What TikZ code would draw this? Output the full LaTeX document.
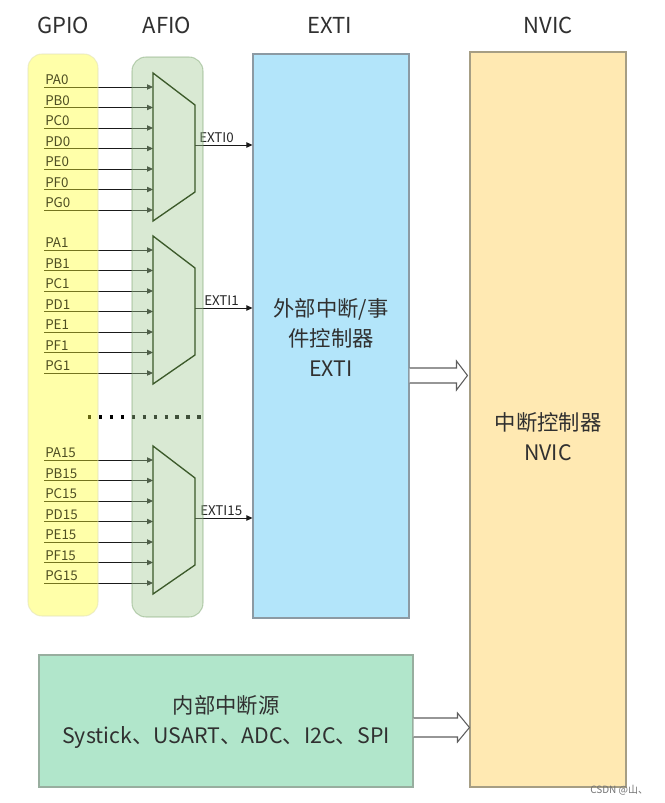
\documentclass[tikz,border=0pt]{standalone}
\usepackage{fontspec}
\setmainfont{Noto Sans CJK SC}
\usetikzlibrary{arrows.meta,calc}
\definecolor{txt}{HTML}{303030}
\definecolor{pintxt}{HTML}{4E4E22}
\definecolor{gpiofill}{HTML}{FFFF2A}
\definecolor{afiofill}{HTML}{A0CA91}
\definecolor{afioedge}{HTML}{6E9A60}
\definecolor{extifill}{HTML}{B3E5FA}
\definecolor{extiedge}{HTML}{8C9AA3}
\definecolor{nvicfill}{HTML}{FFE9B2}
\definecolor{nvicedge}{HTML}{A69E84}
\definecolor{intfill}{HTML}{B1E6CB}
\definecolor{intedge}{HTML}{98AE9F}
\definecolor{muxedge}{HTML}{3C5A2A}
\definecolor{bigedge}{HTML}{5E5E5E}
\begin{document}
\begin{tikzpicture}[x=0.75pt,y=-0.75pt,
  hdr/.style={font=\fontsize{16.5}{18}\selectfont, text=txt},
  big/.style={font=\fontsize{16}{22.5}\selectfont, text=txt, align=center},
  pin/.style={font=\fontsize{10}{11}\selectfont, text=pintxt, anchor=base west, inner sep=0pt},
  outlab/.style={font=\fontsize{10}{11}\selectfont, text=black!85, anchor=base west, inner sep=0pt},
  inarrow/.style={-{Triangle[length=4.5pt,width=4pt]}, line width=0.75pt, draw=black!90},
  box/.style={draw, line width=0.8pt, inner sep=0pt},
  muxline/.style={draw=muxedge, line width=1pt, line join=miter},
  bigarrow/.style={draw=bigedge, fill=white, line width=0.8pt},
  dotline/.style={line width=2.4pt, dash pattern=on 2.4pt off 5.8pt, draw=black}
]
\useasboundingbox (0,0) rectangle (664,803);
\fill[white] (0,0) rectangle (664,803);

% headers
\node[hdr] (hgpio) at (63,25) {GPIO};
\node[hdr] (hafio) at (167,25) {AFIO};
\node[hdr] (hexti) at (330,25) {EXTI};
\node[hdr] (hnvic) at (548,25) {NVIC};

% main boxes
\node[box, draw=extiedge, fill=extifill, minimum width=117pt, minimum height=423pt] (exti) at (331,336) {};
\node[box, draw=nvicedge, fill=nvicfill, minimum width=117pt, minimum height=551.25pt] (nvic) at (548,419.5) {};
\node[box, draw=intedge, fill=intfill, minimum width=280.5pt, minimum height=99pt] (int) at (226,721) {};

\node[big] (extitext) at (331,337) {外部中断/事\\件控制器\\EXTI};
\node[big] (nvictext) at (548,437) {中断控制器\\NVIC};
\node[big] (inttext) at (226,722) {内部中断源\\Systick、USART、ADC、I2C、SPI};

% pin input lines and mux outputs
\foreach \t/\n/\ox in {73/0/199, 236/1/204, 446/15/200} {
  \foreach \L [count=\i from 0] in {A,B,C,D,E,F,G} {
    \pgfmathsetmacro\yy{\t+14+20.5*\i}
    \coordinate (s\L\n) at (44,\yy);
    \coordinate (e\L\n) at (153,\yy);
    \draw[inarrow] (s\L\n) -- (e\L\n);
  }
  \coordinate (o\n) at (195,\t+72);
  \draw[inarrow] (o\n) -- (o\n -| exti.west);
  \node[outlab] (l\n) at (\ox,\t+69) {EXTI\n};
}

% dots
\coordinate (d1) at (88,417);
\coordinate (d2) at (206,417);
\draw[dotline] (d1) -- (d2);

% translucent GPIO / AFIO columns
\node[box, draw=gpiofill!60!black!30, fill=gpiofill, fill opacity=0.4, draw opacity=0.5, rounded corners=10.5pt, minimum width=52.5pt, minimum height=421.5pt] (gpio) at (63,335) {};
\node[box, draw=afioedge, fill=afiofill, fill opacity=0.4, draw opacity=0.4, rounded corners=10.5pt, minimum width=53.25pt, minimum height=420pt] (afio) at (167.5,337) {};

% pin labels
\foreach \t/\n in {73/0, 236/1, 446/15} {
  \foreach \L [count=\i from 0] in {A,B,C,D,E,F,G} {
    \pgfmathsetmacro\yy{\t+14+20.5*\i}
    \node[pin] (p\L\n) at (45,\yy-2.5) {P\L\n};
  }
}

% muxes
\foreach \t/\n in {73/0, 236/1, 446/15} {
  \coordinate (m\n a) at (153,\t);
  \coordinate (m\n b) at (195,\t+32);
  \coordinate (m\n c) at (195,\t+119);
  \coordinate (m\n d) at (153,\t+148);
  \draw[muxline] (m\n a) -- (m\n b) -- (m\n c) -- (m\n d) -- cycle;
}

% big hollow arrows
\coordinate (a1) at (exti.east |- 0,375.5);
\coordinate (a1t) at (nvic.west |- 0,375.5);
\draw[bigarrow] ($(a1)+(0,-7.5)$) -- ($(a1t)+(-13,-7.5)$) -- ($(a1t)+(-13,-14.5)$) -- ($(a1t)+(-2,0)$) -- ($(a1t)+(-13,14.5)$) -- ($(a1t)+(-13,7.5)$) -- ($(a1)+(0,7.5)$);
\coordinate (a2) at (int.east |- 0,727.5);
\coordinate (a2t) at (nvic.west |- 0,727.5);
\draw[bigarrow] ($(a2)+(0,-9.5)$) -- ($(a2t)+(-12,-9.5)$) -- ($(a2t)+(-12,-14.5)$) -- ($(a2t)+(0,0)$) -- ($(a2t)+(-12,14.5)$) -- ($(a2t)+(-12,9.5)$) -- ($(a2)+(0,9.5)$);

% watermark
\node[font=\fontsize{7.5}{8}\selectfont, text=black!55, anchor=base west, inner sep=0pt] (wm) at (590,793) {CSDN @山、};
\end{tikzpicture}
\end{document}
